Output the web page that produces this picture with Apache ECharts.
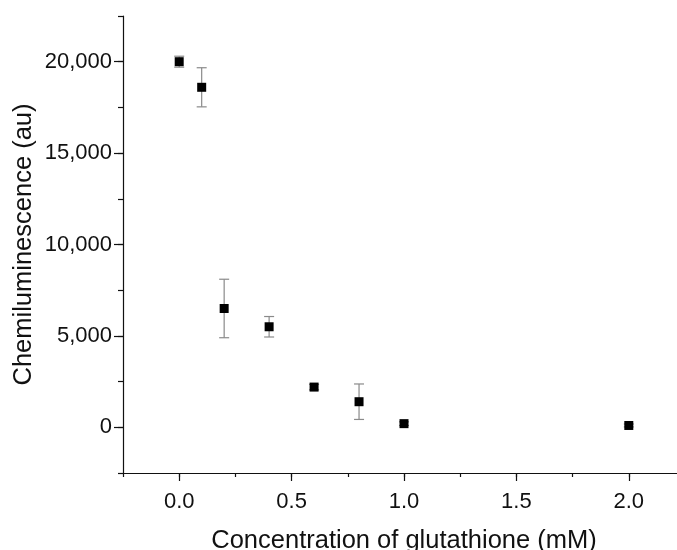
<!DOCTYPE html>
<html><head><meta charset="utf-8">
<script src="https://cdn.jsdelivr.net/npm/echarts@6/dist/echarts.min.js"></script>
<style>html,body{margin:0;padding:0;background:#fff}#c{width:677px;height:550px}</style>
</head><body><div id="c"></div>
<script>
const concentration = [0, 0.1, 0.2, 0.4, 0.6, 0.8, 1.0, 2.0];
const chemiluminescence = [20000, 18600, 6500, 5500, 2200, 1400, 200, 100];
const errorSD = [300, 1070, 1600, 560, 150, 970, 100, 80];
const xTickValues = [0, 0.5, 1.0, 1.5, 2.0];
const yTickValues = [0, 5000, 10000, 15000, 20000];

const FONT = '"Liberation Sans", Arial, sans-serif';
const chart = echarts.init(document.getElementById('c'), null, {renderer: 'canvas'});

const points = concentration.map((c, i) => [c, chemiluminescence[i]]);
const errs = concentration.map((c, i) => [c, chemiluminescence[i], errorSD[i]]);

const fmtY = v => String(v).replace(/\B(?=(\d{3})+(?!\d))/g, ',');

const xBase = {type: 'value', min: -0.25, max: 2.25, splitLine: {show: false}};
const yBase = {type: 'value', min: -2500, max: 22500, splitLine: {show: false}};

chart.setOption({
  animation: false,
  backgroundColor: '#fff',
  grid: {left: 123, right: -8, top: 16, bottom: 77, containLabel: false, outerBoundsMode: 'none'},
  xAxis: [
    Object.assign({}, xBase, {
      interval: 0.25,
      axisLine: {show: true, onZero: false, lineStyle: {color: '#111', width: 1.2}},
      axisTick: {show: true, inside: false, length: 4, lineStyle: {color: '#111', width: 1.2}},
      axisLabel: {show: false},
      name: 'Concentration of glutathione (mM)',
      nameLocation: 'middle',
      nameGap: 55,
      nameTextStyle: {fontFamily: FONT, fontSize: 25.5, color: '#111'}
    }),
    Object.assign({}, xBase, {
      position: 'bottom',
      axisLine: {show: false, onZero: false},
      axisTick: {show: true, inside: false, length: 8, customValues: xTickValues, lineStyle: {color: '#111', width: 1.2}},
      axisLabel: {show: true, margin: 18, customValues: xTickValues, fontFamily: FONT, fontSize: 22, color: '#111',
        formatter: v => v.toFixed(1)}
    })
  ],
  yAxis: [
    Object.assign({}, yBase, {
      interval: 2500,
      axisLine: {show: true, onZero: false, lineStyle: {color: '#111', width: 1.2}},
      axisTick: {show: true, inside: false, length: 5, lineStyle: {color: '#111', width: 1.2}},
      axisLabel: {show: false},
      name: 'Chemiluminescence (au)',
      nameLocation: 'middle',
      nameGap: 86,
      nameRotate: 90,
      nameTextStyle: {fontFamily: FONT, fontSize: 25.5, color: '#111'}
    }),
    Object.assign({}, yBase, {
      position: 'left',
      axisLine: {show: false, onZero: false},
      axisTick: {show: true, inside: false, length: 9, customValues: yTickValues, lineStyle: {color: '#111', width: 1.2}},
      axisLabel: {show: true, margin: 11, customValues: yTickValues, fontFamily: FONT, fontSize: 22, color: '#111',
        formatter: v => fmtY(v)}
    })
  ],
  series: [
    {
      type: 'custom',
      xAxisIndex: 0, yAxisIndex: 0,
      data: errs,
      z: 1,
      renderItem: function (params, api) {
        const x = api.value(0), y = api.value(1), e = api.value(2);
        const t = api.coord([x, y + e]);
        const b = api.coord([x, y - e]);
        const hw = 5;
        const st = {stroke: '#8a8a8a', lineWidth: 1.2};
        return {type: 'group', children: [
          {type: 'line', shape: {x1: t[0], y1: t[1], x2: b[0], y2: b[1]}, style: st},
          {type: 'line', shape: {x1: t[0] - hw, y1: t[1], x2: t[0] + hw, y2: t[1]}, style: st},
          {type: 'line', shape: {x1: b[0] - hw, y1: b[1], x2: b[0] + hw, y2: b[1]}, style: st}
        ]};
      }
    },
    {
      type: 'scatter',
      xAxisIndex: 0, yAxisIndex: 0,
      data: points,
      symbol: 'rect',
      symbolSize: 9,
      itemStyle: {color: '#000', opacity: 1},
      z: 2
    }
  ]
});
</script></body></html>
